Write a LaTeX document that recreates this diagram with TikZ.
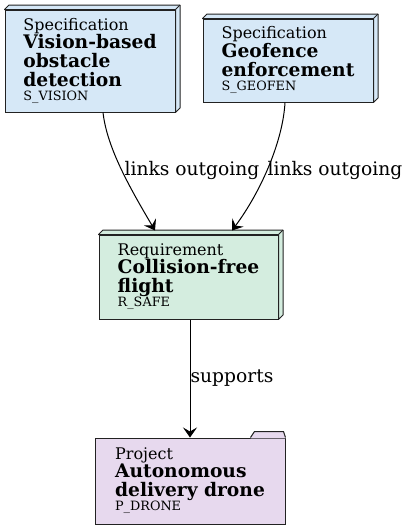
\documentclass[tikz,border=0pt]{standalone}
\usepackage{fontspec}
\setmainfont{DejaVu Serif}[BoldFont={DejaVu Serif Bold}]
\usepackage{xcolor}
\usepackage{tikz}
\usetikzlibrary{arrows.meta,positioning}

\definecolor{specblue}{HTML}{D6E8F7}
\definecolor{reqgreen}{HTML}{D4EDDF}
\definecolor{projpurple}{HTML}{E7D9EE}
\definecolor{linegray}{HTML}{222222}

\tikzset{
  item/.style={draw=linegray, line width=1pt, align=left, inner sep=0pt,
    font=\fontsize{18.67}{18.7}\selectfont},
  spec/.style={item, fill=specblue},
  req/.style={item, fill=reqgreen},
  proj/.style={item, fill=projpurple},
  link/.style={-{Stealth[length=10pt,width=14pt,inset=4pt]}, line width=1pt},
  lbl/.style={font=\fontsize{18.67}{19}\selectfont, inner sep=0pt}
}

\newcommand{\kindtext}[1]{{\fontsize{16}{18.7}\selectfont #1}}
\newcommand{\ident}[1]{{\fontsize{12.8}{14}\selectfont #1}\rule[-4pt]{0pt}{4pt}}

% back faces of the 3d boxes
\newcommand{\boxback}[2]{%
  \filldraw[fill=#2, draw=linegray, line width=1pt, line join=round]
    (#1.north west) -- ++(4.5,-4.5) -- ([xshift=4.5pt,yshift=4.5pt]#1.north east)
    -- ([xshift=4.5pt,yshift=4.5pt]#1.south east) -- (#1.south east)
    -- (#1.north east) -- cycle;
  \draw[linegray, line width=1pt] (#1.north east) -- ++(4.5,-4.5);}

\begin{document}
\begin{tikzpicture}[x=1pt, y=-1pt]
  \useasboundingbox (0,0) rectangle (410,531);

  \node[spec, minimum width=170pt, minimum height=102pt] (vision) at (90,61)
    {\kindtext{Specification}\\\textbf{Vision-based}\\\textbf{obstacle}\\\textbf{detection}\\[-4.7pt]\ident{S\_VISION}};
  \boxback{vision}{specblue}

  \node[spec, minimum width=170pt, minimum height=83pt] (geofen) at (288,60.5)
    {\kindtext{Specification}\\\textbf{Geofence}\\\textbf{enforcement}\\[-4.7pt]\ident{S\_GEOFEN}};
  \boxback{geofen}{specblue}

  \node[req, minimum width=179pt, minimum height=84pt] (safe) at (188.5,277)
    {\kindtext{Requirement}\\\textbf{Collision-free}\\\textbf{flight}\\[-4.7pt]\ident{R\_SAFE}};
  \boxback{safe}{reqgreen}

  \node[proj, minimum width=190pt, minimum height=86pt] (drone) at (190,481)
    {\kindtext{Project}\\\textbf{Autonomous}\\\textbf{delivery drone}\\[-4.7pt]\ident{P\_DRONE}};
  % folder tab
  \fill[projpurple] ([xshift=-35pt,yshift=-0.8pt]drone.north east) -- ++(4,-6.8)
    -- ([xshift=-2pt,yshift=6pt]drone.north east) -- ([yshift=-0.8pt]drone.north east) -- cycle;
  \draw[linegray, line width=1pt, line join=round]
    ([xshift=-35pt]drone.north east) -- ++(4,-6) -- ([xshift=-2pt,yshift=6pt]drone.north east)
    -- (drone.north east);

  \draw[link] ([xshift=13pt]vision.south) .. controls (107,148) and (130,188)
    .. ([xshift=-33.5pt,yshift=4pt]safe.north);
  \draw[link] ([xshift=-3pt]geofen.south) .. controls (283,140) and (262,190)
    .. ([xshift=43.5pt,yshift=4pt]safe.north);
  \draw[link] ([xshift=1.5pt]safe.south) -- (drone.north);

  \node[lbl] (lbl1) at (192,170) {links outgoing};
  \node[lbl] (lbl2) at (335,170) {links outgoing};
  \node[lbl] (lbl3) at (232,378) {supports};
\end{tikzpicture}
\end{document}
